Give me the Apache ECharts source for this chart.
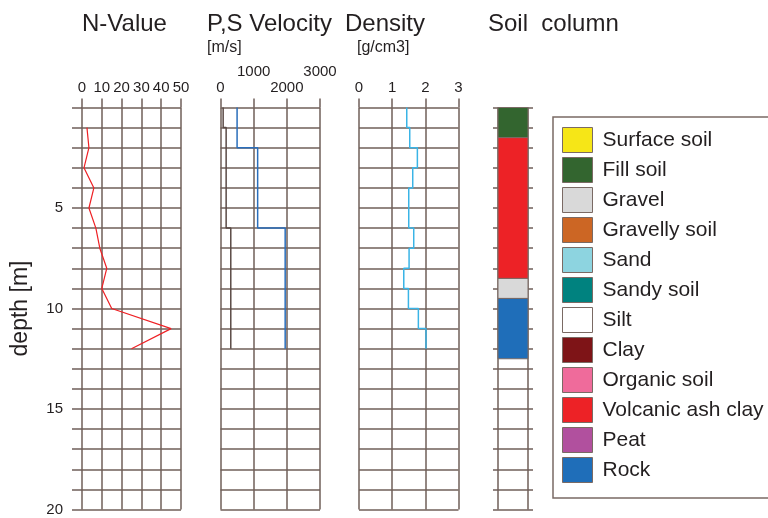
<!DOCTYPE html>
<html>
<head>
<meta charset="utf-8">
<script src="https://cdn.jsdelivr.net/npm/echarts@6/dist/echarts.min.js"></script>
<style>
  html, body { margin: 0; padding: 0; background: #fff; }
  #main { width: 768px; height: 518px; }
</style>
</head>
<body>
<div id="main"></div>
<script>
// N-Value (SPT) by depth
var nDepth = [1, 2, 3, 4, 5, 6, 7, 8, 9, 10, 11, 12];
var nValue = [2.5, 3.5, 1, 6, 3.5, 7, 9, 12.5, 10, 15, 45, 25];

// velocity layers [m/s]
var vpTop = [0, 2, 6];
var vpBottom = [2, 6, 12];
var vpValue = [500, 1120, 1950];
var vsTop = [0, 1, 6];
var vsBottom = [1, 6, 12];
var vsValue = [80, 170, 310];

// density per metre [g/cm3]
var densTop = [0, 1, 2, 3, 4, 5, 6, 7, 8, 9, 10, 11];
var densValue = [1.44, 1.53, 1.76, 1.62, 1.50, 1.50, 1.65, 1.51, 1.35, 1.49, 1.79, 2.02];

// soil column
var soilTop = [0, 1.5, 8.5, 9.5];
var soilBottom = [1.5, 8.5, 9.5, 12.5];
var soilLayer = ['Fill soil', 'Volcanic ash clay', 'Gravel', 'Rock'];

var soilNames = ['Surface soil', 'Fill soil', 'Gravel', 'Gravelly soil', 'Sand', 'Sandy soil',
  'Silt', 'Clay', 'Organic soil', 'Volcanic ash clay', 'Peat', 'Rock'];
var soilColors = ['#f6e617', '#33652f', '#d9d9d9', '#cc6624', '#8dd4e0', '#00827f',
  '#ffffff', '#7e1417', '#ef6b9b', '#ed2226', '#b1509e', '#1f6eb9'];

var depthTicks = [5, 10, 15, 20];
var nTicks = [0, 10, 20, 30, 40, 50];
var velTicks = [0, 1000, 2000, 3000];
var densTicks = [0, 1, 2, 3];

var gridColor = '#6f5f59';
var textColor = '#231f20';
var font = 'Liberation Sans';

function stepLine(tops, bottoms, values) {
  var pts = [];
  for (var i = 0; i < values.length; i++) {
    pts.push([values[i], tops[i]]);
    pts.push([values[i], bottoms[i]]);
  }
  return pts;
}

var chart = echarts.init(document.getElementById('main'));

var lineStyleGrid = { color: gridColor, width: 1.5 };

function depthAxis(grid, extra) {
  var ax = {
    type: 'value',
    gridIndex: grid,
    min: 0,
    max: 20,
    interval: 1,
    inverse: true,
    axisLine: { show: false },
    axisTick: { show: false },
    axisLabel: { show: false },
    splitLine: { show: true, lineStyle: lineStyleGrid }
  };
  for (var k in extra) ax[k] = extra[k];
  return ax;
}

function topAxis(grid, max, interval, ticks, offset) {
  return {
    type: 'value',
    gridIndex: grid,
    position: 'top',
    min: 0,
    max: max,
    interval: interval,
    offset: offset || 0,
    axisLine: { show: false },
    axisTick: { show: !offset, length: 9, lineStyle: lineStyleGrid },
    splitLine: { show: !offset, lineStyle: lineStyleGrid },
    axisLabel: {
      show: true,
      margin: 12,
      fontSize: 15,
      fontFamily: font,
      color: textColor,
      interval: 0,
      formatter: function (v) { return ticks.indexOf(v) >= 0 ? String(v) : ''; }
    }
  };
}

var series = [
  {
    name: 'N-Value',
    type: 'line',
    xAxisIndex: 0,
    yAxisIndex: 0,
    showSymbol: false,
    lineStyle: { color: '#ee2024', width: 1.2 },
    data: nDepth.map(function (d, i) { return [nValue[i], d]; })
  },
  {
    name: 'Vs',
    type: 'line',
    xAxisIndex: 1,
    yAxisIndex: 1,
    showSymbol: false,
    lineStyle: { color: '#5a4a45', width: 1.5 },
    data: stepLine(vsTop, vsBottom, vsValue)
  },
  {
    name: 'Vp',
    type: 'line',
    xAxisIndex: 1,
    yAxisIndex: 1,
    showSymbol: false,
    lineStyle: { color: '#2a6ebb', width: 1.5 },
    data: stepLine(vpTop, vpBottom, vpValue)
  },
  {
    name: 'Density',
    type: 'line',
    xAxisIndex: 3,
    yAxisIndex: 2,
    showSymbol: false,
    lineStyle: { color: '#3ab4e6', width: 1.5 },
    data: stepLine(densTop, densTop.map(function (t) { return t + 1; }), densValue)
  }
];

soilNames.forEach(function (name, idx) {
  var data = [];
  soilLayer.forEach(function (s, i) {
    if (s === name) data.push([soilTop[i], soilBottom[i]]);
  });
  series.push({
    name: name,
    type: 'custom',
    xAxisIndex: 4,
    yAxisIndex: 3,
    itemStyle: { color: soilColors[idx] },
    encode: { y: [0, 1] },
    renderItem: function (params, api) {
      var p1 = api.coord([0, api.value(0)]);
      var p2 = api.coord([1, api.value(1)]);
      return {
        type: 'rect',
        shape: { x: p1[0], y: p1[1], width: p2[0] - p1[0], height: p2[1] - p1[1] },
        style: { fill: api.visual('color'), stroke: '#7a6a64', lineWidth: 1 }
      };
    },
    data: data
  });
});

var titleStyle = { fontSize: 24, fontWeight: 'normal', fontFamily: font, color: textColor };
var unitStyle = { fontSize: 16, fontWeight: 'normal', fontFamily: font, color: textColor };

var option = {
  animation: false,
  backgroundColor: '#fff',
  title: [
    { text: 'N-Value', left: 82, top: 12, padding: 0, textStyle: titleStyle },
    { text: 'P,S Velocity', left: 207, top: 12, padding: 0, textStyle: titleStyle },
    { text: 'Density', left: 345, top: 12, padding: 0, textStyle: titleStyle },
    { text: 'Soil  column', left: 488, top: 12, padding: 0, textStyle: titleStyle },
    { text: '[m/s]', left: 207, top: 40, padding: 0, textStyle: unitStyle },
    { text: '[g/cm3]', left: 357, top: 40, padding: 0, textStyle: unitStyle }
  ],
  legend: {
    orient: 'vertical',
    left: 553,
    top: 117,
    padding: [10, 40, 15, 9],
    itemWidth: 30,
    itemHeight: 25,
    itemGap: 4,
    icon: 'rect',
    selectedMode: false,
    borderColor: '#7a6a64',
    borderWidth: 1.5,
    itemStyle: { borderColor: '#7a6a64', borderWidth: 1 },
    textStyle: { fontSize: 21, lineHeight: 25, fontFamily: font, color: textColor, padding: [0, 0, 0, 5] },
    data: soilNames
  },
  grid: [
    { left: 82, top: 107.5, width: 99, height: 402 },
    { left: 220.5, top: 107.5, width: 99.5, height: 402 },
    { left: 359, top: 107.5, width: 99.5, height: 402 },
    { left: 498, top: 107.5, width: 30, height: 402 }
  ],
  xAxis: [
    topAxis(0, 50, 10, nTicks),
    topAxis(1, 3000, 1000, [0, 2000]),
    topAxis(1, 3000, 1000, [1000, 3000], 16),
    topAxis(2, 3, 1, densTicks),
    {
      type: 'value',
      gridIndex: 3,
      position: 'top',
      min: 0,
      max: 1,
      interval: 1,
      axisLine: { show: false },
      axisTick: { show: false },
      axisLabel: { show: false },
      splitLine: { show: true, lineStyle: lineStyleGrid }
    }
  ],
  yAxis: [
    depthAxis(0, {
      name: 'depth [m]',
      nameLocation: 'middle',
      nameGap: 50,
      nameTextStyle: { fontSize: 23, fontFamily: font, color: textColor },
      axisTick: { show: true, length: 10, interval: 0, lineStyle: lineStyleGrid },
      axisLabel: {
        show: true,
        interval: 0,
        margin: 19,
        fontSize: 15,
        fontFamily: font,
        color: textColor,
        formatter: function (v) { return depthTicks.indexOf(v) >= 0 ? String(v) : ''; }
      }
    }),
    depthAxis(1, {}),
    depthAxis(2, {}),
    depthAxis(3, {
      position: 'left',
      axisTick: { show: true, length: 5, interval: 0, lineStyle: lineStyleGrid }
    }),
    depthAxis(3, {
      position: 'right',
      splitLine: { show: false },
      axisTick: { show: true, length: 5, interval: 0, lineStyle: lineStyleGrid }
    })
  ],
  series: series
};

chart.setOption(option);
</script>
</body>
</html>
